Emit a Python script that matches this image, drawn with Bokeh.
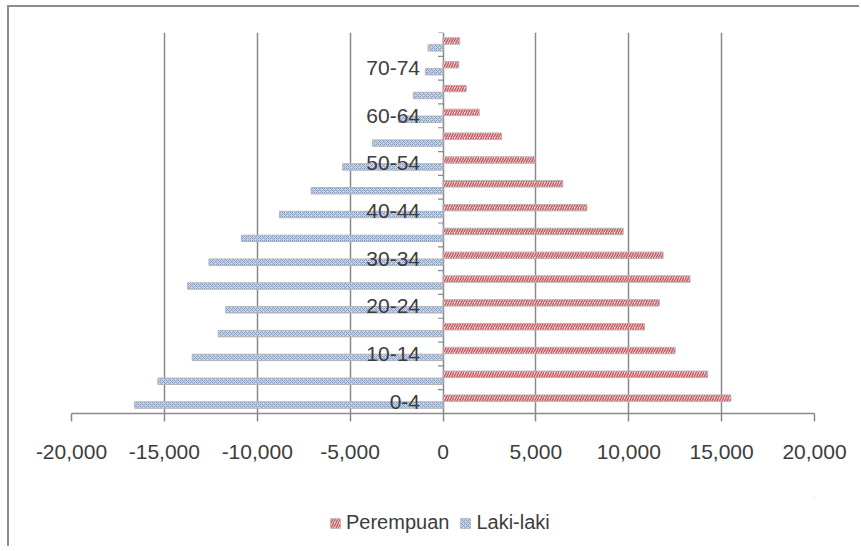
from bokeh.plotting import figure
from bokeh.layouts import column
from bokeh.models import (Range1d, FixedTicker, NumeralTickFormatter, Legend, LegendItem,
                          ColumnDataSource)
from bokeh.core.properties import value
from bokeh.transform import dodge
from bokeh.embed import file_html
from bokeh.resources import INLINE

# ---- data ----
age_groups = ["0-4", "5-9", "10-14", "15-19", "20-24", "25-29", "30-34", "35-39",
              "40-44", "45-49", "50-54", "55-59", "60-64", "65-69", "70-74", "75+"]
perempuan = [15500, 14250, 12500, 10850, 11650, 13300, 11850, 9700,
             7750, 6450, 4950, 3150, 1950, 1250, 850, 900]
laki_laki = [-16600, -15350, -13500, -12100, -11700, -13750, -12600, -10850,
             -8800, -7100, -5400, -3800, -2400, -1600, -950, -800]
x_ticks = [-20000, -15000, -10000, -5000, 0, 5000, 10000, 15000, 20000]
legend_labels = ["Perempuan", "Laki-laki"]

FONT = "Liberation Sans"
TXT = "#3c3c3c"
GRID = "#8a8a8a"

F_STYLE = dict(fill_color="#fcecec", hatch_pattern="/", hatch_color="#cc5a62",
               hatch_scale=5, hatch_weight=1.6, line_color="#b4b4b4", line_width=1)
M_STYLE = dict(fill_color="#c7d5ea", hatch_pattern="x", hatch_color="#7f99c4",
               hatch_scale=4, hatch_weight=1, line_color="#b4b4b4", line_width=1)

W, H = 850, 489
ML, MR, MT, MB = 62, 45, 25, 83
x0, x1 = -20000, 20000

p = figure(width=W, height=H, output_backend="svg", toolbar_location=None,
           x_range=Range1d(x0, x1), y_range=Range1d(-0.5, len(age_groups) - 0.5),
           min_border_left=ML, min_border_right=MR, min_border_top=MT,
           min_border_bottom=MB, background_fill_color="white",
           border_fill_color="white", outline_line_color=None)

idx = list(range(len(age_groups)))
src = ColumnDataSource(dict(y=idx, f=perempuan, m=laki_laki))

bar_h = 0.27
off = 0.145
r_f = p.hbar(y=dodge("y", off), left=0, right="f", height=bar_h, source=src, **F_STYLE)
r_m = p.hbar(y=dodge("y", -off), left="m", right=0, height=bar_h, source=src, **M_STYLE)

# vertical axis at zero: tick marks at category boundaries
frame_w = W - ML - MR
tick_len = 5 * (x1 - x0) / frame_w
bounds = [i - 0.5 for i in range(len(age_groups) + 1)]
p.segment(x0=[0] * len(bounds), x1=[-tick_len] * len(bounds), y0=bounds, y1=bounds,
          line_color=GRID, line_width=1.2)

# category labels (every other one, as in the original)
shown = age_groups[::2]
shown_y = idx[::2]
p.text(x=[0] * len(shown), y=shown_y, text=shown, x_offset=-23,
       text_align="right", text_baseline="middle", text_font=value(FONT),
       text_font_size="21px", text_color=TXT)

# axes
p.yaxis.visible = False
p.ygrid.visible = False
p.xgrid.ticker = FixedTicker(ticks=x_ticks)
p.xgrid.grid_line_color = GRID
p.xgrid.grid_line_width = 1.5
xa = p.xaxis[0]
xa.ticker = FixedTicker(ticks=x_ticks)
xa.formatter = NumeralTickFormatter(format="0,0")
xa.axis_line_color = GRID
xa.axis_line_width = 1.5
xa.major_tick_line_color = GRID
xa.major_tick_line_width = 1.5
xa.major_tick_out = 8
xa.major_tick_in = 0
xa.minor_tick_line_color = None
xa.major_label_standoff = 23
xa.major_label_text_font = FONT
xa.major_label_text_font_size = "21px"
xa.major_label_text_color = TXT

# legend strip below the chart
lf = figure(width=W, height=50, output_backend="svg", toolbar_location=None,
            x_range=Range1d(0, 1), y_range=Range1d(0, 1), min_border=0,
            outline_line_color=None, background_fill_color="white",
            border_fill_color="white")
lf.axis.visible = False
lf.grid.visible = False
dummy = ColumnDataSource(dict(y=[5], l=[5], r=[6]))
lr_f = lf.hbar(y="y", left="l", right="r", height=0.5, source=dummy, **F_STYLE)
lr_m = lf.hbar(y="y", left="l", right="r", height=0.5, source=dummy, **M_STYLE)
legend = Legend(items=[LegendItem(label=legend_labels[0], renderers=[lr_f]),
                       LegendItem(label=legend_labels[1], renderers=[lr_m])],
                orientation="horizontal", location=(258, 12),
                label_text_font=FONT, label_text_font_size="20px",
                label_text_color=TXT, glyph_width=12, glyph_height=12,
                label_standoff=5, spacing=10, padding=4, margin=0,
                border_line_color=None, background_fill_alpha=0)
lf.add_layout(legend, "center")

layout = column(p, lf, spacing=0)
layout.styles = {"margin-left": "7px", "margin-top": "5px",
                 "border-left": "2px solid #8c8c8c", "border-top": "2px solid #8c8c8c"}

open("out.html", "w").write(file_html(layout, INLINE))
